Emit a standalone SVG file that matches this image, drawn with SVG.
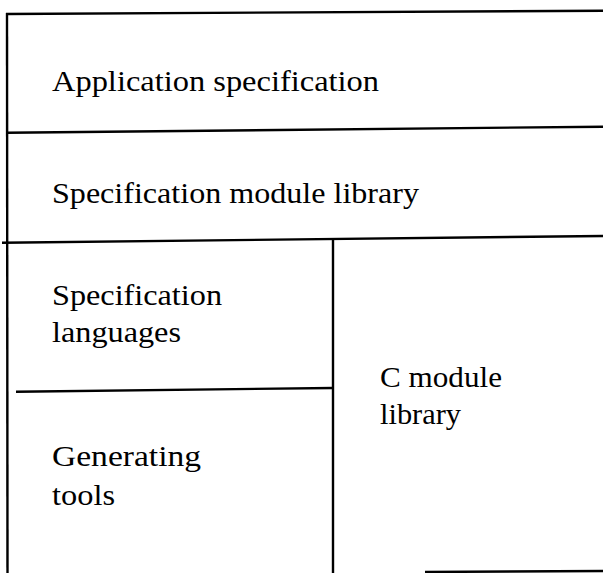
<svg xmlns="http://www.w3.org/2000/svg" width="603" height="573" viewBox="0 0 603 573">
<style>
.t{font-family:"Liberation Serif","Times New Roman",serif;font-size:30px;fill:#000}
.l{stroke:#000;stroke-width:2.4;fill:none}
</style>
<rect width="603" height="573" fill="#fff"/>
<g id="connectors">
<line class="l" x1="6" y1="14" x2="603" y2="10.7"/>
<line class="l" x1="7" y1="13" x2="7.5" y2="573"/>
<line class="l" x1="7" y1="132.7" x2="603" y2="126.7"/>
<line class="l" x1="2" y1="242.7" x2="603" y2="236"/>
<line class="l" x1="333" y1="240" x2="333" y2="573"/>
<line class="l" x1="16" y1="391.7" x2="333" y2="388"/>
<line class="l" x1="425" y1="572" x2="603" y2="571"/>
</g>
<g id="application-specification">
<text class="t" x="52" y="91" textLength="327" lengthAdjust="spacingAndGlyphs">Application specification</text>
</g>
<g id="specification-module-library">
<text class="t" x="52" y="203" textLength="367" lengthAdjust="spacingAndGlyphs">Specification module library</text>
</g>
<g id="specification-languages">
<text class="t" x="52" y="305" textLength="170" lengthAdjust="spacingAndGlyphs">Specification</text>
<text class="t" x="52" y="342" textLength="129" lengthAdjust="spacingAndGlyphs">languages</text>
</g>
<g id="generating-tools">
<text class="t" x="52" y="466" textLength="149" lengthAdjust="spacingAndGlyphs">Generating</text>
<text class="t" x="52" y="505" textLength="63" lengthAdjust="spacingAndGlyphs">tools</text>
</g>
<g id="c-module-library">
<text class="t" x="380" y="387" textLength="122" lengthAdjust="spacingAndGlyphs">C module</text>
<text class="t" x="380" y="424" textLength="81" lengthAdjust="spacingAndGlyphs">library</text>
</g>
</svg>
